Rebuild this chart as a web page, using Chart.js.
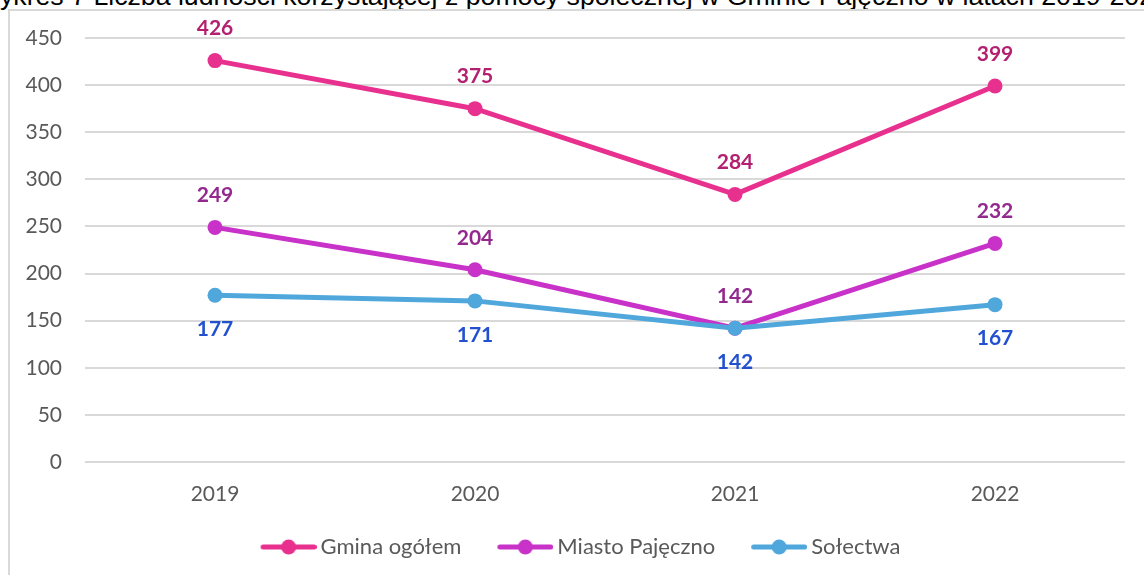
<!DOCTYPE html>
<html lang="pl">
<head>
<meta charset="utf-8">
<title>Wykres 7</title>
<script src="https://cdn.jsdelivr.net/npm/chart.js@4"></script>
<style>
  html, body { margin: 0; padding: 0; background: #fff; }
  body { width: 1144px; height: 575px; overflow: hidden; position: relative; }
  #tytul {
    position: absolute; left: -25px; top: -17px;
    font: 26.7px "Liberation Sans", Arial, sans-serif; line-height: 27px;
    color: #000; white-space: nowrap;
  }
  #ramka {
    position: absolute; left: 8px; top: 9px; width: 1300px; height: 800px;
    border: 2px solid #d9d9d9; box-sizing: border-box;
  }
  #wrap { position: absolute; left: 0; top: 0; width: 1144px; height: 575px; }
</style>
</head>
<body>
<div id="tytul">Wykres 7 Liczba ludności korzystającej z pomocy społecznej w Gminie Pajęczno w latach 2019-2022</div>
<div id="ramka"></div>
<div id="wrap"><canvas id="wykres" width="1144" height="575"></canvas></div>
<script>
// dane
const lata = ['2019', '2020', '2021', '2022'];
const gminaOgolem = [426, 375, 284, 399];
const miastoPajeczno = [249, 204, 142, 232];
const solectwa = [177, 171, 142, 167];
const etykietyY = [0, 50, 100, 150, 200, 250, 300, 350, 400, 450];

const FONT = "Lato, 'Open Sans', sans-serif";
const SZARY = '#595959';

const KOLORY = {
  gmina:  { line: '#e8318e', label: '#b32070' },
  miasto: { line: '#c832c8', label: '#93288f' },
  solect: { line: '#4fa7dc', label: '#2250cf' },
};

// znacznik legendy: linia z kropką, jak w Excelu.
// Lewa część obrazka jest pusta - robi odstęp między pozycjami legendy.
function znacznik(kolor) {
  const c = document.createElement('canvas');
  c.width = 79; c.height = 16;
  const g = c.getContext('2d');
  g.strokeStyle = kolor; g.lineWidth = 5; g.lineCap = 'round';
  g.beginPath(); g.moveTo(25.5, 8); g.lineTo(76.5, 8); g.stroke();
  g.fillStyle = kolor;
  g.beginPath(); g.arc(51, 8, 7.5, 0, Math.PI * 2); g.fill();
  return c;
}

// etykiety danych (bez chartjs-plugin-datalabels)
const etykietyDanych = {
  id: 'etykietyDanych',
  afterDatasetsDraw(chart) {
    const ctx = chart.ctx;
    ctx.save();
    ctx.font = "bold 21px " + FONT;
    ctx.textAlign = 'center';
    ctx.textBaseline = 'middle';
    chart.data.datasets.forEach((ds, i) => {
      const meta = chart.getDatasetMeta(i);
      meta.data.forEach((pt, j) => {
        const dy = ds.pozycja === 'gora' ? -32 : 34;
        ctx.fillStyle = ds.kolorEtykiety;
        ctx.fillText(String(ds.data[j]), pt.x, pt.y + dy);
      });
    });
    ctx.restore();
  }
};

function seria(label, data, kol, pozycja, order) {
  return {
    label, data, order, pozycja,
    kolorEtykiety: kol.label,
    borderColor: kol.line,
    backgroundColor: kol.line,
    borderWidth: 5,
    pointRadius: 7.5,
    pointHoverRadius: 7.5,
    pointBackgroundColor: kol.line,
    pointBorderWidth: 0,
    tension: 0,
    fill: false,
    legendaObrazek: znacznik(kol.line),
  };
}

new Chart(document.getElementById('wykres'), {
  type: 'line',
  data: {
    labels: lata,
    datasets: [
      seria('Gmina ogółem', gminaOgolem, KOLORY.gmina, 'gora', 2),
      seria('Miasto Pajęczno', miastoPajeczno, KOLORY.miasto, 'gora', 1),
      seria('Sołectwa', solectwa, KOLORY.solect, 'dol', 0),
    ]
  },
  plugins: [etykietyDanych],
  options: {
    responsive: false,
    animation: false,
    events: [],
    layout: { padding: { top: 38, right: 19, left: 20, bottom: 7 } },
    plugins: {
      tooltip: { enabled: false },
      legend: {
        display: true,
        position: 'bottom',
        labels: {
          color: SZARY,
          font: { family: FONT, size: 22 },
          usePointStyle: true,
          pointStyleWidth: 65,
          padding: 20,
          sort: (a, b) => a.datasetIndex - b.datasetIndex,
          generateLabels(chart) {
            const base = Chart.defaults.plugins.legend.labels.generateLabels(chart);
            return base.map(it => {
              it.pointStyle = chart.data.datasets[it.datasetIndex].legendaObrazek;
              return it;
            });
          }
        }
      }
    },
    scales: {
      x: {
        offset: true,
        grid: { display: false },
        border: { display: false },
        ticks: { color: SZARY, font: { family: FONT, size: 21 }, padding: 12 },
        afterFit(scale) { scale.height = 54; }
      },
      y: {
        min: 0,
        max: 450,
        afterBuildTicks(scale) { scale.ticks = etykietyY.map(v => ({ value: v })); },
        grid: { color: '#d9d9d9', lineWidth: 2, drawTicks: false },
        border: { display: false },
        ticks: { color: SZARY, font: { family: FONT, size: 21 }, padding: 23 },
        afterFit(scale) { scale.width = 65; }
      }
    }
  }
});
</script>
</body>
</html>
